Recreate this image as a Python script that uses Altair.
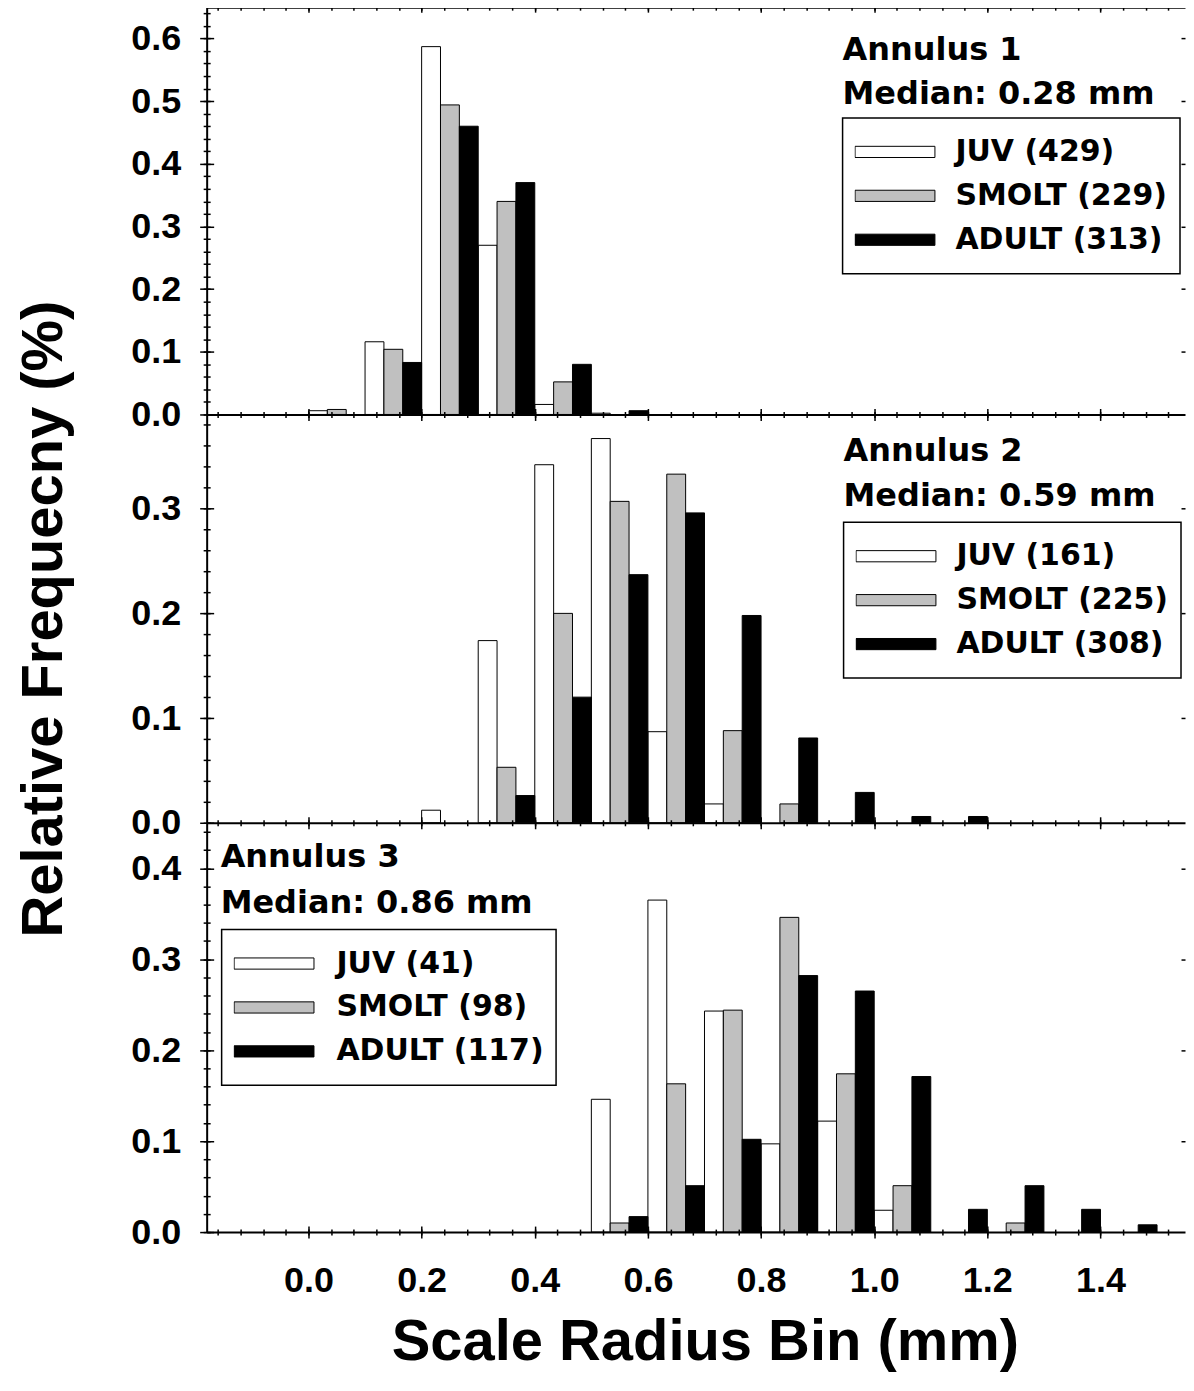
import altair as alt
import pandas as pd

# ---------------- data ----------------
bins = [0.0, 0.1, 0.2, 0.3, 0.4, 0.5, 0.6, 0.7, 0.8, 0.9, 1.0, 1.1, 1.2, 1.3, 1.4, 1.5]
groups = ["JUV", "SMOLT", "ADULT"]

# Annulus 1
a1_juv = [0.006, 0.116, 0.587, 0.270, 0.016, 0.002, 0, 0, 0, 0, 0, 0, 0, 0, 0, 0]
a1_smolt = [0.008, 0.104, 0.494, 0.340, 0.052, 0, 0, 0, 0, 0, 0, 0, 0, 0, 0, 0]
a1_adult = [0, 0.083, 0.460, 0.370, 0.080, 0.006, 0, 0, 0, 0, 0, 0, 0, 0, 0, 0]
a1_n = [429, 229, 313]

# Annulus 2
a2_juv = [0, 0, 0.012, 0.174, 0.342, 0.367, 0.087, 0.018, 0, 0, 0, 0, 0, 0, 0, 0]
a2_smolt = [0, 0, 0, 0.053, 0.200, 0.307, 0.333, 0.088, 0.018, 0, 0, 0, 0, 0, 0, 0]
a2_adult = [0, 0, 0, 0.026, 0.120, 0.237, 0.296, 0.198, 0.081, 0.029, 0.006, 0.006, 0, 0, 0, 0]
a2_n = [161, 225, 308]

# Annulus 3
a3_juv = [0, 0, 0, 0, 0, 0.146, 0.365, 0.243, 0.097, 0.122, 0.024, 0, 0, 0, 0, 0]
a3_smolt = [0, 0, 0, 0, 0, 0.010, 0.163, 0.244, 0.346, 0.174, 0.051, 0, 0.010, 0, 0, 0]
a3_adult = [0, 0, 0, 0, 0, 0.017, 0.051, 0.102, 0.282, 0.265, 0.171, 0.025, 0.051, 0.025, 0.008, 0]
a3_n = [41, 98, 117]

medians = [0.28, 0.59, 0.86]

# ---------------- styling ----------------
FILLS = ["#ffffff", "#c0c0c0", "#000000"]
AXFONT = "Liberation Sans"
TXFONT = "DejaVu Sans"
PLOT_W = 980
XDOM = [-0.18, 1.5494]
x_minor = [round(-0.16 + 0.04 * i, 2) for i in range(43)]
x_major = [round(0.2 * i, 1) for i in range(8)]
fmt1 = "format(datum.value, '.1f')"


def tick_axis(orient, values, size, offset=0, domain=False, labels=False, **kw):
    return alt.Axis(orient=orient, values=values, grid=False, domain=domain,
                    labels=labels, ticks=size > 0, tickSize=max(size, 1),
                    offset=offset, title=kw.pop("title", None), tickWidth=1.5,
                    domainWidth=2, zindex=1, labelOverlap=False, labelFlush=False, **kw)


def panel(idx, juv, smolt, adult, ns, ymax, height, note_pos, leg_pos, leg_off):
    width = 0.1 / 3
    rows = []
    labels = [f"{g} ({n})" for g, n in zip(groups, ns)]
    for k, (series, lab) in enumerate(zip([juv, smolt, adult], labels)):
        for b, v in zip(bins, series):
            if v > 0:
                rows.append({"bin": b, "label": lab, "value": v,
                             "start": b + k * width, "end": b + (k + 1) * width})
    df = pd.DataFrame(rows)

    xscale = alt.Scale(domain=XDOM, nice=False, zero=False)
    yscale = alt.Scale(domain=[0, ymax], nice=False)
    y_minor = [round(0.02 * i, 2) for i in range(40) if 0.02 * i <= ymax + 1e-9]
    y_major = [round(0.1 * i, 1) for i in range(10) if 0.1 * i <= ymax + 1e-9]

    last = idx == 3
    x_main = tick_axis("bottom", x_major, 0, domain=True, labels=last,
                       labelExpr=fmt1, labelPadding=32,
                       title="Scale Radius Bin (mm)" if last else None,
                       titleX=499, titleY=128, titleBaseline="alphabetic",
                       titleAlign="center")
    y_main = tick_axis("left", y_major, 0, domain=True, labels=True,
                       labelExpr=fmt1, labelPadding=26,
                       title="Relative Frequecny (%)" if idx == 2 else None,
                       titleX=-145, titleY=204.5, titleBaseline="alphabetic",
                       titleAlign="center", titleAngle=270)

    legend = alt.Legend(
        orient="none", legendX=leg_pos[0], legendY=leg_pos[1], title=None,
        symbolType="M-1,-0.14H1V0.14H-1Z", symbolSize=6400,
        symbolStrokeColor="black", symbolStrokeWidth=1,
        labelFont=TXFONT, labelFontSize=30, labelFontWeight="bold", labelColor="black",
        labelLimit=500, labelOffset=leg_off, clipHeight=44, rowPadding=0,
        padding=12, strokeColor="black", fillColor="white",
    )

    bars = alt.Chart(df).mark_bar(stroke="black", strokeWidth=1).encode(
        x=alt.X("start:Q", scale=xscale, axis=x_main),
        x2="end:Q",
        y=alt.Y("value:Q", scale=yscale, axis=y_main),
        y2=alt.datum(0),
        fill=alt.Fill("label:N", scale=alt.Scale(domain=labels, range=FILLS),
                      legend=legend, sort=labels),
    )

    def ghost(xaxis, yaxis):
        return alt.Chart(df).mark_point(opacity=0, size=1).encode(
            x=alt.X("start:Q", scale=xscale, axis=xaxis),
            y=alt.Y("value:Q", scale=yscale, axis=yaxis),
        )

    layers = [
        bars,
        ghost(tick_axis("bottom", x_major, 12, offset=-6),
              tick_axis("left", y_major, 14, offset=-7)),
        ghost(tick_axis("bottom", x_minor, 6, offset=-3),
              tick_axis("left", y_minor, 7, offset=-3.5)),
        ghost(tick_axis("top", x_minor, 0, domain=True) if idx == 1 else None,
              tick_axis("right", [v for v in y_major if v > 0], 4, offset=-4)),
    ]
    if idx == 1:
        layers += [
            ghost(tick_axis("top", x_major, 10, offset=-5), None),
            ghost(tick_axis("top", x_minor, 6, offset=-3), None),
        ]

    note_lines = [f"Annulus {idx}", f"Median: {medians[idx - 1]:.2f} mm"]
    for li, line in enumerate(note_lines):
        ndf = pd.DataFrame({"note": [line]})
        layers.append(
            alt.Chart(ndf).mark_text(
                align="left", baseline="alphabetic", font=TXFONT, fontSize=32,
                fontWeight="bold", color="black",
            ).encode(x=alt.value(note_pos[0]),
                     y=alt.value(note_pos[1] + li * note_pos[2]),
                     text="note:N")
        )

    return alt.layer(*layers).resolve_axis(
        x="independent", y="independent"
    ).properties(width=PLOT_W, height=height)


p1 = panel(1, a1_juv, a1_smolt, a1_adult, a1_n, 0.65, 408, (637, 53, 44), (637, 111), 20)
p2 = panel(2, a2_juv, a2_smolt, a2_adult, a2_n, 0.39, 409, (638, 47, 45), (638, 108), 20)
p3 = panel(3, a3_juv, a3_smolt, a3_adult, a3_n, 0.45, 410, (14, 44, 46), (15, 107), 22)

chart = alt.vconcat(p1, p2, p3, spacing=0, bounds="flush").resolve_scale(
    fill="independent", x="independent", y="independent"
).configure_view(stroke=None).configure_axis(
    labelFont=AXFONT, labelFontSize=36, labelFontWeight="bold", labelColor="black",
    titleFont=AXFONT, titleFontSize=58, titleFontWeight="bold", titleColor="black",
    domainColor="black", tickColor="black",
).configure_legend(strokeWidth=1.5).properties(
    padding={"left": 7, "top": -8, "right": 0, "bottom": 0}, background="white"
)

chart.save("out.html", embed_options={"renderer": "svg", "actions": False})
